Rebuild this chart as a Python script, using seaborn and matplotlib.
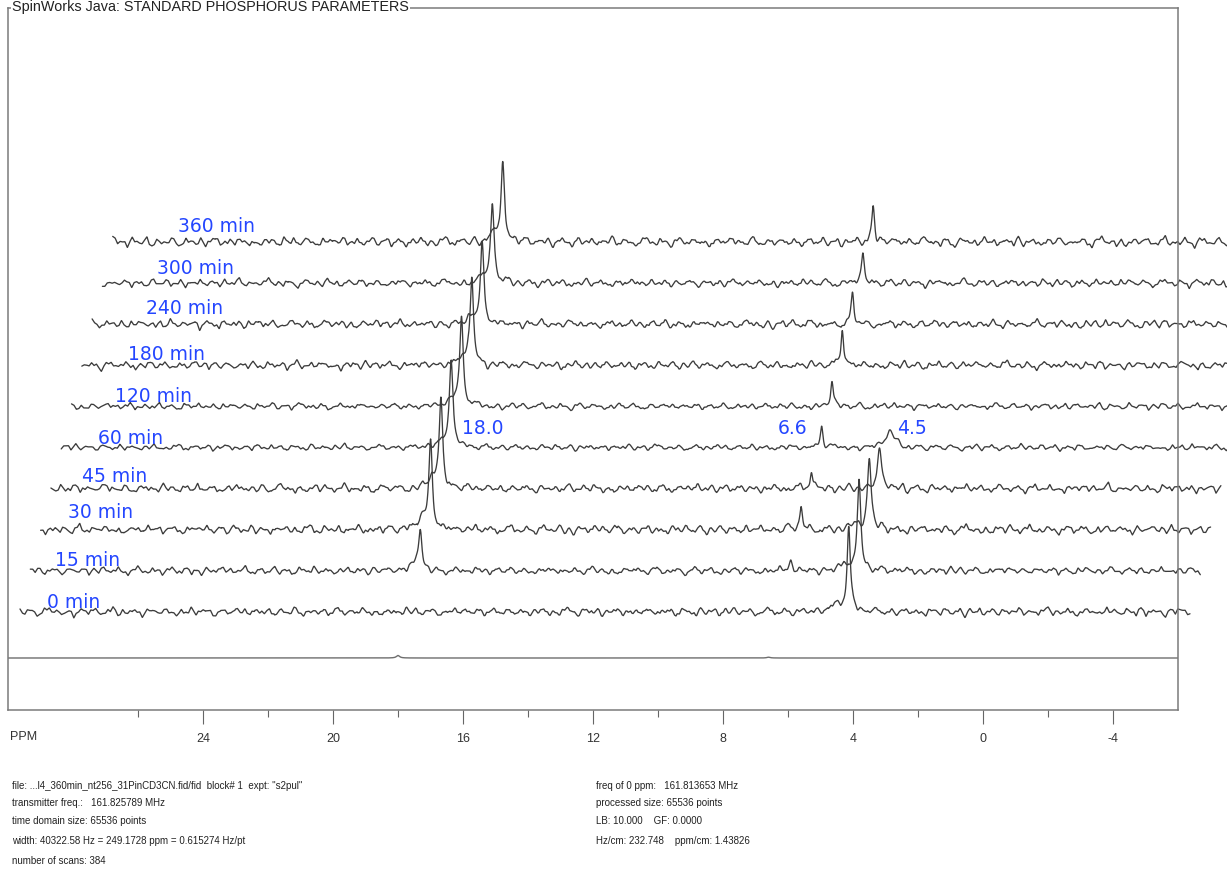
import numpy as np
import pandas as pd
import matplotlib
matplotlib.use("Agg")
import matplotlib.pyplot as plt
import seaborn as sns

# ---------------- data ----------------
TIMES = ["0 min", "15 min", "30 min", "45 min", "60 min",
         "120 min", "180 min", "240 min", "300 min", "360 min"]

# labelled 31P resonances (ppm) and two weak shoulders
PEAK_PPM = [18.0, 6.6, 4.5]
SHOULDER_PPM = [18.3, 4.95]

# peak heights for each time point (same order as TIMES)
HEIGHT_18_0 = [0, 40, 88, 90, 86, 88, 87, 80, 79, 80]
HEIGHT_6_6 = [0, 10, 25, 18, 22, 25, 38, 30, 29, 36]
HEIGHT_4_5 = [84, 90, 70, 38, 18, 0, 0, 0, 0, 0]
HEIGHT_18_3 = [0, 5, 12, 10, 8, 8, 8, 7, 6, 7]
HEIGHT_4_95 = [10, 8, 6, 0, 0, 0, 0, 0, 0, 0]

# full widths at half height (ppm)
WIDTH_18_0 = 0.13
WIDTH_6_6 = 0.10
WIDTH_4_5 = [0.12, 0.13, 0.14, 0.16, 0.28, 0.15, 0.15, 0.15, 0.15, 0.15]
WIDTH_SHOULDER = 0.25

# plotted 360 min spectrum at absolute scale
MAIN_HEIGHTS = [2.5, 0.8, 0.0]

# baseline noise samples (shared record, read at a different start per spectrum)
NOISE = [
    1.5, -2.0, 3.1, -0.8, -3.5, 2.2, 4.0, -1.2, 0.6, -2.8, 1.9, -4.1, 0.3, 2.7, -1.6, 3.4, -0.5, -2.4, 1.1, 4.6,
    -3.0, 0.8, -1.9, 2.5, -0.2, -4.4, 1.7, 3.0, -2.2, 0.4, 2.9, -1.4, -3.3, 1.2, -0.7, 3.8, -2.6, 0.9, 2.1, -1.0,
    -3.8, 2.4, 0.2, -1.7, 4.2, -0.9, 1.6, -2.9, 3.3, -1.1, -0.3, 2.6, -4.0, 1.4, 0.7, -2.1, 3.6, -0.6, -3.2, 1.8,
    0.5, -1.5, 2.8, -3.6, 1.0, 4.4, -2.3, -0.4, 2.0, -1.8, 3.2, 0.1, -2.7, 1.3, -4.3, 2.3, -0.1, 1.7, -3.1, 3.9,
    -0.9, 2.2, -2.5, 0.6, 3.5, -1.3, -3.7, 1.9, 0.0, 2.7, -2.0, 4.1, -1.5, -0.2, 2.5, -3.4, 1.1, 3.0, -1.7, -0.5,
    3.3, -2.8, 0.9, 1.6, -4.2, 2.0, -0.8, 3.7, -1.9, 0.3, -2.6, 1.5, 4.3, -1.0, -3.0, 2.4, 0.8, -1.4, 2.9, -3.9,
    1.2, -0.4, 3.6, -2.2, 0.7, -1.6, 2.6, -3.3, 4.0, 0.2, -2.1, 1.8, -0.9, 3.1, -4.5, 1.4, 2.2, -1.2, -2.8, 3.4,
    -1.1, 0.5, 2.3, -3.5, 1.9, -0.6, 4.2, -2.4, 0.1, 2.8, -1.8, -3.1, 1.3, 3.9, -0.3, -2.5, 2.1, 0.4, -3.8, 1.6,
    2.7, -1.3, -0.2, 3.2, -2.9, 1.0, -4.0, 2.5, 0.6, -1.5, 3.8, -0.7, 1.7, -2.3, 0.9, 4.5, -3.2, -0.8, 2.0, -1.9,
    0.3, 3.0, -2.6, 1.4, -0.5, -3.6, 2.9, 1.1, -1.7, 3.5, -2.0, 0.0, 2.4, -4.1, 1.5, -0.6, 3.3, -2.7, 0.8, 1.9,
    -3.4, 2.6, -1.0, 0.4, 3.9, -2.2, -0.3, 1.8, -3.0, 2.2, 4.1, -1.6, 0.7, -2.5, 3.0, -0.9, -3.9, 1.2, 2.8, -1.4,
    0.6, -2.0, 3.6, -0.4, 1.3, -3.3, 2.0, 0.9, -1.8, 4.4, -2.9, 0.2, 1.6, -0.8, -3.5, 2.7, -1.2, 3.1, 0.5, -2.4,
]
NOISE_START = [0, 131, 57, 199, 88, 163, 21, 112, 176, 44]
FINE_START = [97, 12, 180, 66, 143, 29, 208, 75, 154, 5]
NOISE_SCALE = [1.15, 1.05, 1.25, 1.15, 0.85, 0.9, 1.1, 1.15, 1.1, 1.25]

PEAK_LABELS = ["18.0", "6.6", "4.5"]

TITLE = "SpinWorks Java: STANDARD PHOSPHORUS PARAMETERS"
INFO_LEFT = [
    'file: ...l4_360min_nt256_31PinCD3CN.fid/fid  block# 1  expt: "s2pul"',
    "transmitter freq.:   161.825789 MHz",
    "time domain size: 65536 points",
    "width: 40322.58 Hz = 249.1728 ppm = 0.615274 Hz/pt",
    "number of scans: 384",
]
INFO_RIGHT = [
    "freq of 0 ppm:   161.813653 MHz",
    "processed size: 65536 points",
    "LB: 10.000    GF: 0.0000",
    "Hz/cm: 232.748    ppm/cm: 1.43826",
]

MAJOR_TICKS = [24, 20, 16, 12, 8, 4, 0, -4]
MINOR_TICKS = [26, 22, 18, 14, 10, 6, 2, -2]

# ---------------- layout ----------------
W, H = 1227, 869
X_LEFT, X_RIGHT = 30.0, -6.0
Y_BOTTOM, Y_TOP = -52.0, 650.0
PX_PER_PPM = 1170 / 36.0
STACK_DX_PX = 10.3      # horizontal step between stacked spectra
STACK_DY = 41.1         # vertical step between stacked spectra
STACK_X0_PX = 12.0
STACK_Y0 = 46.0

TRACE_COLOR = "#3c3c3c"
LABEL_BLUE = "#2446ff"
FRAME_COLOR = "#7a7a7a"

sns.set_style("white")
plt.rcParams["font.family"] = ["Liberation Sans", "DejaVu Sans"]


def lorentz(x, centre, fwhm):
    return 1.0 / (1.0 + ((x - centre) / (fwhm / 2.0)) ** 2)


def on_grid(values, x):
    """Place a noise record evenly across the spectral window and sample it on x."""
    xs = np.linspace(X_RIGHT, X_LEFT, len(values))
    return np.interp(x, xs, np.asarray(values)[::-1])


ppm = np.linspace(X_LEFT, X_RIGHT, 6001)
noise_arr = np.asarray(NOISE)

frames = []
for i, t in enumerate(TIMES):
    coarse = np.roll(noise_arr, -NOISE_START[i])
    fine = np.tile(np.roll(noise_arr, -FINE_START[i]), 2)
    base = (on_grid(coarse, ppm) * 0.85 + on_grid(fine, ppm) * 0.45) * NOISE_SCALE[i]
    sig = (HEIGHT_18_0[i] * lorentz(ppm, PEAK_PPM[0], WIDTH_18_0)
           + HEIGHT_6_6[i] * lorentz(ppm, PEAK_PPM[1], WIDTH_6_6)
           + HEIGHT_4_5[i] * lorentz(ppm, PEAK_PPM[2], WIDTH_4_5[i])
           + HEIGHT_18_3[i] * lorentz(ppm, SHOULDER_PPM[0], WIDTH_SHOULDER)
           + HEIGHT_4_95[i] * lorentz(ppm, SHOULDER_PPM[1], WIDTH_SHOULDER))
    dx = (STACK_X0_PX + STACK_DX_PX * i) / PX_PER_PPM
    frames.append(pd.DataFrame({
        "ppm": ppm - dx,
        "intensity": STACK_Y0 + STACK_DY * i + base + sig,
        "time": t,
    }))
stack = pd.concat(frames, ignore_index=True)

main = pd.DataFrame({
    "ppm": ppm,
    "intensity": sum(h * lorentz(ppm, c, 0.12) for h, c in zip(MAIN_HEIGHTS, PEAK_PPM)),
})

fig = plt.figure(figsize=(W / 100, H / 100), dpi=100)
ax = fig.add_axes([8 / W, 1 - 710 / H, 1170 / W, 702 / H])

sns.lineplot(data=stack, x="ppm", y="intensity", hue="time",
             palette={t: TRACE_COLOR for t in TIMES}, legend=False,
             estimator=None, sort=False, lw=0.95, clip_on=False, ax=ax)
sns.lineplot(data=main, x="ppm", y="intensity", color="#6e6e6e",
             estimator=None, sort=False, lw=1.0, ax=ax)

ax.set_xlim(X_LEFT, X_RIGHT)
ax.set_ylim(Y_BOTTOM, Y_TOP)
ax.set_xlabel("")
ax.set_ylabel("")
ax.set_yticks([])
ax.set_xticks(MAJOR_TICKS)
ax.set_xticklabels([str(v) for v in MAJOR_TICKS])
ax.set_xticks(MINOR_TICKS, minor=True)
ax.tick_params(axis="x", which="major", direction="out", length=10, width=0.8,
               color="#666666", labelsize=9, labelcolor="#333333", pad=6.5, bottom=True)
ax.tick_params(axis="x", which="minor", direction="out", length=5, width=0.8,
               color="#666666", bottom=True)
for s in ax.spines.values():
    s.set_visible(True)
    s.set_color(FRAME_COLOR)
    s.set_linewidth(1.1)

# time labels beside each spectrum
label_pos = [(28.80, 55), (28.56, 98), (28.16, 145), (27.73, 182), (27.23, 220),
             (26.71, 262), (26.31, 304), (25.76, 349), (25.42, 390), (24.78, 432)]
for t, (lx, ly) in zip(TIMES, label_pos):
    ax.text(lx, ly, t, color=LABEL_BLUE, fontsize=13.5, family="DejaVu Sans",
            ha="left", va="center", clip_on=False)

# chemical shift labels
for txt, lx in zip(PEAK_LABELS, [16.02, 6.31, 2.65]):
    ax.text(lx, 230, txt, color=LABEL_BLUE, fontsize=13.5, family="DejaVu Sans",
            ha="left", va="center")

fig.text(10 / W, 1 - 737 / H, "PPM", fontsize=9, color="#333333", ha="left", va="center")

fig.text(12 / W, 1 - 10.5 / H, TITLE, fontsize=10.4, color="#222222", ha="left",
         va="baseline", zorder=10,
         bbox=dict(facecolor="white", edgecolor="none", pad=0.5))

for k, line in enumerate(INFO_LEFT):
    fig.text(12 / W, 1 - [786, 803, 821, 841, 861][k] / H, line, fontsize=7.0,
             color="#222222", ha="left", va="center")
for k, line in enumerate(INFO_RIGHT):
    fig.text(596 / W, 1 - [786, 803, 821, 841][k] / H, line, fontsize=7.0,
             color="#222222", ha="left", va="center")

fig.savefig("out.png", dpi=100, facecolor="white")
